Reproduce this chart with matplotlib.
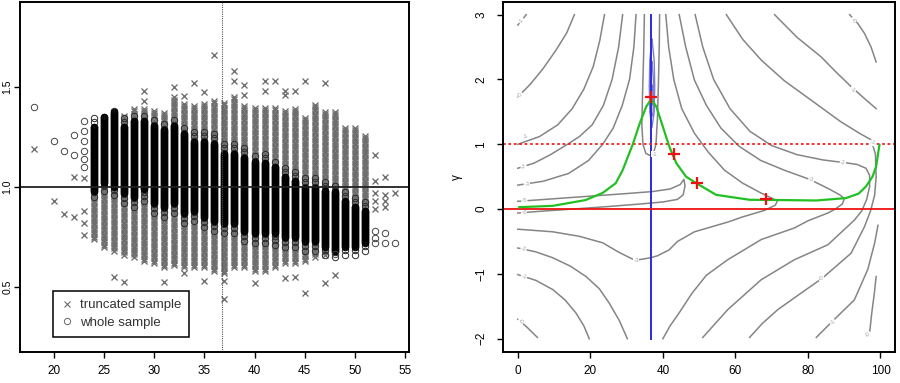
import numpy as np
import matplotlib
matplotlib.use('Agg')
import matplotlib.pyplot as plt
from matplotlib.lines import Line2D

plt.rcParams['font.family'] = ['Liberation Sans', 'DejaVu Sans']

# ---------------- left panel data ----------------
# dense columns, one per age (24..51): range of truncated-sample points (x)
col_ages = list(range(24, 52))
trunc_hi = [1.30, 1.33, 1.38, 1.36, 1.39, 1.40, 1.38, 1.38, 1.45, 1.42, 1.41, 1.42, 1.43, 1.42,
            1.45, 1.41, 1.40, 1.40, 1.40, 1.38, 1.40, 1.35, 1.42, 1.38, 1.38, 1.30, 1.30, 1.26]
trunc_lo = [0.74, 0.70, 0.68, 0.66, 0.65, 0.63, 0.62, 0.60, 0.61, 0.60, 0.60, 0.60, 0.58, 0.57,
            0.60, 0.60, 0.58, 0.58, 0.60, 0.62, 0.62, 0.63, 0.65, 0.66, 0.68, 0.70, 0.70, 0.76]
# whole sample: dense core and full extent
core_hi = [1.30, 1.35, 1.38, 1.30, 1.33, 1.33, 1.31, 1.29, 1.31, 1.27, 1.23, 1.23, 1.22, 1.17,
           1.17, 1.15, 1.13, 1.12, 1.10, 1.05, 1.03, 1.00, 1.00, 0.98, 0.98, 0.93, 0.90, 0.88]
core_lo = [0.98, 1.02, 1.00, 0.97, 0.95, 0.99, 0.92, 0.90, 0.92, 0.87, 0.88, 0.85, 0.83, 0.82,
           0.82, 0.78, 0.77, 0.77, 0.77, 0.75, 0.75, 0.73, 0.73, 0.70, 0.68, 0.70, 0.70, 0.72]
whole_hi = [1.35, 1.36, 1.40, 1.36, 1.36, 1.36, 1.35, 1.33, 1.35, 1.30, 1.28, 1.28, 1.27, 1.22,
            1.22, 1.20, 1.17, 1.17, 1.14, 1.10, 1.08, 1.05, 1.05, 1.03, 1.02, 0.98, 0.95, 0.93]
whole_lo = [0.95, 0.98, 0.96, 0.92, 0.90, 0.93, 0.87, 0.85, 0.87, 0.82, 0.83, 0.80, 0.78, 0.77,
            0.77, 0.73, 0.72, 0.72, 0.71, 0.70, 0.70, 0.68, 0.68, 0.66, 0.65, 0.66, 0.66, 0.68]

# single points
trunc_age = [18, 20, 21, 22, 22, 23, 23, 23, 23, 52, 52, 52, 52, 52, 53, 53, 53, 53, 54,
             26, 27, 29, 29, 31, 32, 33, 33, 34, 35, 35, 36, 37, 37, 38, 38, 39, 39, 40,
             41, 41, 42, 43, 43, 43, 44, 44, 45, 45, 47, 47, 48]
trunc_val = [1.19, 0.93, 0.865, 1.05, 0.85, 1.045, 0.88, 0.82, 0.76, 1.16, 1.03, 0.97, 0.93, 0.89,
             1.05, 0.96, 0.93, 0.90, 0.97,
             0.55, 0.525, 1.48, 1.43, 0.525, 1.50, 1.455, 0.57, 1.52, 1.475, 0.53, 1.66, 0.53,
             0.44, 1.58, 1.53, 1.51, 1.46, 0.52, 1.53, 1.48, 1.53, 1.48, 1.46, 0.545, 1.48,
             0.55, 1.53, 0.467, 1.52, 0.52, 0.56]
whole_age = [18, 20, 21, 22, 22, 23, 23, 23, 23, 23, 23, 52, 52, 52, 53, 53, 54, 48]
whole_val = [1.40, 1.23, 1.18, 1.26, 1.16, 1.33, 1.28, 1.23, 1.18, 1.14, 1.10,
             0.78, 0.745, 0.72, 0.77, 0.72, 0.72, 0.665]
cut_age = 36.8

# ---------------- right panel data ----------------
# contour lines, (x, gamma)
cont_a = [(0.0, 2.84), (1.2, 2.92), (2.3, 3.0)]
cont_b = [(15.6, 3.0), (13.5, 2.72), (10.5, 2.45), (7.0, 2.17), (3.5, 1.93), (0.0, 1.73)]
cont_c = [(23.9, 3.0), (22.6, 2.6), (20.8, 2.2), (18.2, 1.85), (15.0, 1.55), (11.0, 1.3),
          (6.0, 1.12), (0.0, 1.0)]
cont_d = [(28.9, 3.0), (27.8, 2.5), (26.0, 2.0), (23.6, 1.6), (20.5, 1.3), (17.0, 1.12),
          (13.7, 1.0), (9.0, 0.84), (4.5, 0.71), (0.0, 0.63)]
cont_e = [(32.6, 3.0), (32.0, 2.5), (30.8, 2.0), (28.8, 1.6), (26.3, 1.25), (23.4, 1.0),
          (19.5, 0.75), (14.0, 0.55), (7.0, 0.43), (0.0, 0.37)]
cont_u = [(34.9, 3.0), (34.7, 2.4), (34.4, 1.8), (34.2, 1.3), (34.5, 1.0), (35.3, 0.86),
          (36.3, 0.83), (37.4, 0.86), (38.1, 1.0), (38.5, 1.4), (38.8, 2.0), (39.0, 2.5),
          (39.1, 3.0)]
cont_hp = [(0.0, 0.12), (10.0, 0.16), (20.0, 0.20), (30.0, 0.24), (37.0, 0.27), (42.0, 0.31),
           (44.8, 0.38), (45.8, 0.46), (46.1, 0.36), (45.6, 0.22), (44.0, 0.15), (40.0, 0.11),
           (34.0, 0.08), (25.0, 0.04), (15.0, 0.0), (7.0, -0.03), (0.0, -0.06)]
cont_n1 = [(40.8, 3.0), (41.6, 2.5), (43.0, 2.0), (45.2, 1.55), (48.7, 1.17), (52.5, 0.88),
           (57.0, 0.60), (62.0, 0.40), (67.0, 0.25), (70.0, 0.17), (71.6, 0.13), (71.0, 0.06),
           (68.0, -0.02), (62.0, -0.12), (57.9, -0.20), (53.0, -0.28), (48.7, -0.35),
           (44.0, -0.50), (41.7, -0.63), (38.5, -0.72), (36.7, -0.75), (33.5, -0.78),
           (31.6, -0.77), (28.0, -0.67), (23.4, -0.52), (17.0, -0.42), (9.6, -0.35), (0.0, -0.31)]
cont_n2 = [(44.5, 3.0), (46.3, 2.5), (48.7, 1.99), (52.0, 1.60), (56.0, 1.25), (61.0, 0.97),
           (67.0, 0.75), (73.5, 0.60), (80.4, 0.46), (85.5, 0.32), (88.8, 0.22), (90.0, 0.16),
           (89.5, 0.08), (87.5, 0.0), (85.5, -0.06), (80.0, -0.18), (76.3, -0.29),
           (67.1, -0.47), (57.9, -0.78), (52.0, -1.02), (48.0, -1.3), (44.5, -1.6),
           (42.0, -1.8), (40.0, -2.0)]
cont_m2 = [(48.9, 3.0), (51.0, 2.5), (54.0, 2.0), (58.5, 1.55), (64.0, 1.2), (70.0, 0.98),
           (77.0, 0.84), (84.0, 0.76), (89.6, 0.72), (93.5, 0.69), (96.0, 0.63), (97.0, 0.52),
           (97.0, 0.35), (96.2, 0.15), (94.8, -0.03), (92.8, -0.17), (85.5, -0.55),
           (76.3, -0.78), (67.1, -1.09), (57.9, -1.55), (51.0, -1.98)]
cont_m1 = [(57.5, 3.0), (62.0, 2.62), (67.1, 2.30), (73.5, 1.98), (80.9, 1.68), (89.0, 1.35),
           (94.5, 1.16), (97.4, 1.07), (98.6, 0.85), (98.8, 0.50), (98.4, 0.22), (97.3, -0.02),
           (95.6, -0.27), (91.9, -0.68), (84.1, -1.06), (77.5, -1.32), (71.7, -1.55),
           (67.5, -1.76), (63.9, -1.98)]
cont_r1 = [(70.8, 3.0), (77.0, 2.65), (83.6, 2.35), (88.0, 2.10), (91.9, 1.89), (95.5, 1.71),
           (98.8, 1.55)]
cont_r0 = [(91.5, 3.0), (93.8, 2.86), (95.6, 2.71), (97.4, 2.5), (98.8, 2.27)]
cont_b1 = [(82.3, -1.98), (86.4, -1.75), (92.8, -1.4), (96.5, -0.93), (98.4, -0.52), (99.3, -0.25)]
cont_b2 = [(96.9, -1.96), (97.6, -1.6), (98.3, -1.3), (98.8, -1.04)]
cont_l1 = [(0.0, -1.70), (2.5, -1.82), (5.4, -1.98)]
cont_l2 = [(0.0, -1.01), (5.0, -1.10), (9.6, -1.24), (13.0, -1.40), (16.0, -1.6), (18.2, -1.8),
           (19.7, -2.0)]
cont_l3 = [(0.0, -0.60), (5.0, -0.66), (9.6, -0.75), (14.5, -0.88), (18.8, -1.04),
           (22.5, -1.23), (25.2, -1.45), (28.0, -1.72), (30.2, -2.0)]
gray_contours = [cont_a, cont_b, cont_c, cont_d, cont_e, cont_u, cont_hp, cont_n1, cont_n2,
                 cont_m2, cont_m1, cont_r1, cont_r0, cont_b1, cont_b2, cont_l1, cont_l2, cont_l3]

# contour level labels: x, gamma, text, angle
lab_x = [0.9, 0.6, 2.1, 1.6, 2.5, 1.8, 1.8, 1.6, 1.6, 0.9, 32.6, 37.6, 92.4, 92.4, 89.6,
         80.9, 97.9, 83.6, 86.9, 96.5]
lab_g = [2.91, 1.76, 1.12, 0.65, 0.38, 0.13, -0.05, -0.61, -1.05, -1.73, -0.79, 0.85, 2.91,
         1.84, 0.71, 0.45, 1.02, -1.06, -1.75, -1.93]
lab_t = ['-1', '-0', '-1', '-2', '-3', '-5', '-6', '-2', '-1', '-0', '-3', '-1', '-0', '-1',
         '-2', '-3', '-1', '-0', '-1', '-0']
lab_rot = [50, 40, 25, 12, 6, 3, 0, -10, -25, -40, 0, 0, -60, -30, -5, -20, -20, 30, 40, 70]

# small closed contours round the maximum
loop_1 = [(37.0, 2.62), (37.6, 2.3), (37.75, 1.9), (37.6, 1.5), (37.0, 1.26), (36.4, 1.5),
          (36.25, 1.9), (36.4, 2.3), (37.0, 2.62)]
loop_2 = [(37.0, 2.27), (37.4, 2.0), (37.45, 1.7), (37.3, 1.5), (37.0, 1.43), (36.7, 1.5),
          (36.55, 1.7), (36.6, 2.0), (37.0, 2.27)]
loop_3 = [(37.0, 1.91), (37.25, 1.8), (37.25, 1.66), (37.0, 1.6), (36.75, 1.66), (36.75, 1.8),
          (37.0, 1.91)]

# profile path (green) and iterates (red crosses)
path_x = [0.4, 9.6, 18.7, 23.4, 27.0, 28.9, 31.7, 33.6, 35.4, 36.8, 38.2, 40.0, 41.8, 43.7,
          46.4, 49.2, 54.7, 63.9, 72.1, 82.3, 90.5, 94.0, 96.0, 97.8, 98.8, 99.7]
path_g = [0.03, 0.05, 0.14, 0.25, 0.40, 0.60, 1.00, 1.32, 1.58, 1.70, 1.58, 1.27, 0.96, 0.71,
          0.50, 0.40, 0.22, 0.144, 0.14, 0.133, 0.17, 0.24, 0.35, 0.50, 0.66, 0.99]
iter_x = [36.8, 43.2, 49.4, 68.3]
iter_g = [1.73, 0.85, 0.40, 0.16]
peak_x = 36.8

# ---------------- figure ----------------
fig = plt.figure(figsize=(9.0, 3.83), dpi=100)
ax1 = fig.add_axes([19.5 / 900, 31.3 / 383, 389.8 / 900, 350.0 / 383])
ax2 = fig.add_axes([503.3 / 900, 31.3 / 383, 391.7 / 900, 350.0 / 383])

gray_x = '#6c6c6c'
for i, a in enumerate(col_ages):
    yy = np.arange(trunc_lo[i], trunc_hi[i], 0.011)
    ax1.plot(np.full(len(yy), a), yy, 'x', color=gray_x, ms=4.7, mew=0.95, ls='none')
ax1.plot(trunc_age, trunc_val, 'x', color=gray_x, ms=4.7, mew=0.95, ls='none')
for i, a in enumerate(col_ages):
    yy = np.concatenate([np.arange(core_hi[i], whole_hi[i], 0.022),
                         np.arange(whole_lo[i], core_lo[i], 0.022)])
    ax1.plot(np.full(len(yy), a), yy, 'o', mfc='none', mec='#2a2a2a', ms=4.6, mew=0.7, ls='none')
    yy = np.arange(core_lo[i], core_hi[i], 0.005)
    ax1.plot(np.full(len(yy), a), yy, 'o', mfc='none', mec='black', ms=4.6, mew=0.8, ls='none')
ax1.plot(whole_age, whole_val, 'o', mfc='none', mec='#444444', ms=4.6, mew=0.7, ls='none')

ax1.axhline(1.0, color='#222222', lw=1.3)
ax1.axvline(cut_age, color='#555555', lw=0.8, ls=(0, (1, 1)))
ax1.set_xlim(16.56, 55.44)
ax1.set_ylim(0.175, 1.925)
ax1.set_xticks([20, 25, 30, 35, 40, 45, 50, 55])
ax1.set_yticks([0.5, 1.0, 1.5])
ax1.set_yticklabels(['0.5', '1.0', '1.5'], rotation=90, va='center')
leg_h = [Line2D([], [], marker='x', color=gray_x, ls='none', ms=4.5, mew=0.8),
         Line2D([], [], marker='o', mfc='none', mec='#666666', ls='none', ms=4.5, mew=0.7)]
leg = ax1.legend(leg_h, ['truncated sample', 'whole sample'], loc='lower left',
                 bbox_to_anchor=(0.085, 0.043), borderaxespad=0, fancybox=False,
                 fontsize=9.5, handlelength=1.0, handletextpad=0.45, borderpad=0.6,
                 labelspacing=0.4, framealpha=1)
leg.get_frame().set_edgecolor('black')
leg.get_frame().set_linewidth(1.1)
for t in leg.get_texts():
    t.set_color('#333333')

# right panel
for c in gray_contours:
    c = np.array(c)
    ax2.plot(c[:, 0], c[:, 1], color='#858585', lw=1.1)
for c in [loop_1, loop_2, loop_3]:
    c = np.array(c)
    ax2.plot(c[:, 0], c[:, 1], color='#7c7cd0', lw=1.0)
for x, g, t, r in zip(lab_x, lab_g, lab_t, lab_rot):
    ax2.text(x, g, t, fontsize=4.5, color='#a5a5a5', rotation=r, ha='center', va='center',
             bbox=dict(boxstyle='square,pad=0.05', fc='white', ec='none'))
ax2.plot([peak_x, peak_x], [-2, 3], color='#2a2ae0', lw=1.4)
ax2.axhline(0, color='#ee1111', lw=1.3)
ax2.axhline(1, color='#ee2222', lw=1.3, ls=(0, (1.5, 1.5)))
ax2.plot(path_x, path_g, color='#22c022', lw=1.6)
ax2.plot(iter_x, iter_g, '+', color='#ee1111', ms=8, mew=1.6, ls='none')
ax2.set_xlim(-4, 104)
ax2.set_ylim(-2.2, 3.2)
ax2.set_xticks([0, 20, 40, 60, 80, 100])
ax2.set_yticks([-2, -1, 0, 1, 2, 3])
ax2.set_yticklabels(['\u22122', '\u22121', '0', '1', '2', '3'], rotation=90, va='center')
ax2.set_ylabel('\u03b3', fontsize=8.5, labelpad=9)

for ax in (ax1, ax2):
    for s in ax.spines.values():
        s.set_linewidth(1.4)
    ax.tick_params(axis='both', length=4.5, width=1.0, labelsize=8.5)
    ax.tick_params(axis='x', pad=5)
ax1.tick_params(axis='y', pad=0.8, labelsize=7.5)
ax2.tick_params(axis='y', pad=7)

fig.savefig('out.png', dpi=100)
